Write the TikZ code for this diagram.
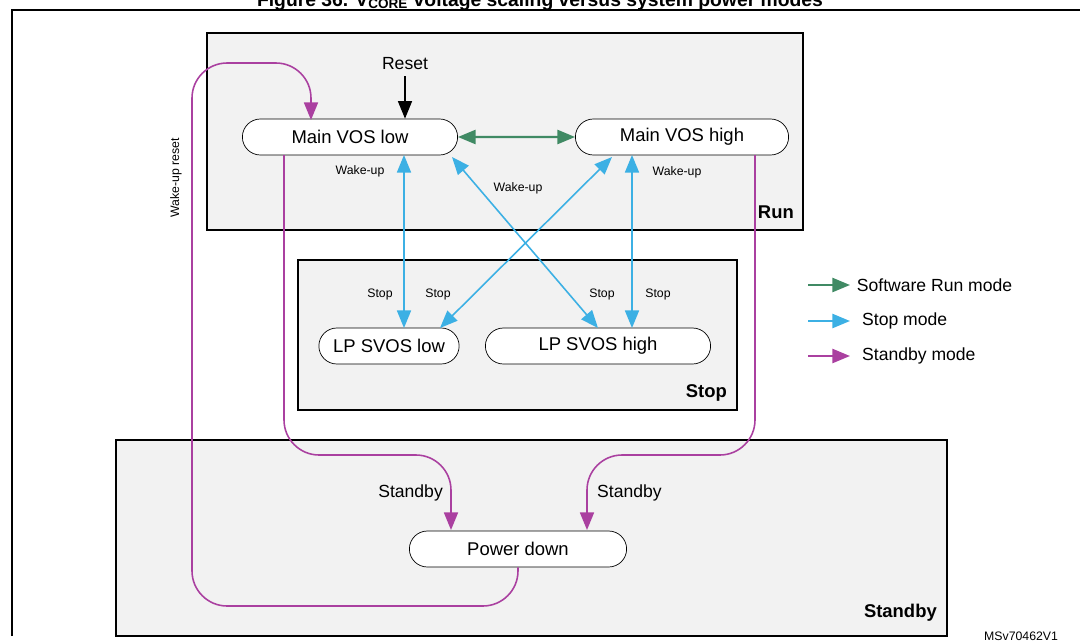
\documentclass[tikz,border=0pt]{standalone}
\usepackage{fontspec}
\setmainfont{Liberation Sans}
\usetikzlibrary{shapes.misc,arrows.meta}
\definecolor{runsw}{RGB}{64,138,100}
\definecolor{stopmode}{RGB}{60,176,228}
\definecolor{standbymode}{RGB}{170,64,160}
\definecolor{area}{RGB}{242,242,242}
\tikzstyle{state}=[rounded rectangle, draw, fill=white, minimum height=0.72cm, font=\fontsize{10.5}{12}\selectfont]
\tikzset{area/.style={draw, fill=area, line width=0.6pt}}
\tikzset{tip/.style={-{Triangle[width=8pt,length=10pt]}}}
\tikzset{tips/.style={{Triangle[width=8pt,length=10pt]}-{Triangle[width=8pt,length=10pt]}}}
\tikzset{small/.style={font=\fontsize{7}{8}\selectfont}}
\tikzset{label/.style={font=\fontsize{10}{12}\selectfont}}

\begin{document}
\begin{tikzpicture}[x=0.02cm,y=-0.02cm]
  \useasboundingbox (0,0) rectangle (1080,643);
  \clip (0,0) rectangle (1080,643);
  \node[anchor=base, font=\bfseries\fontsize{11}{13}\selectfont] (title) at (540,6) {Figure 36. V\textsubscript{CORE} voltage scaling versus system power modes};
  \draw[line width=0.8pt] (12,636) -- (12,10) -- (1090,10);

  %% Areas
  \draw[area] (207,33) rectangle (803,230);
  \draw[area] (298,260) rectangle (737,410);
  \draw[area] (116,440) rectangle (947,636);
  \node[font=\bfseries\fontsize{10.5}{12}\selectfont, anchor=east] (run) at (800,212) {Run};
  \node[font=\bfseries\fontsize{10.5}{12}\selectfont, anchor=east] (stop) at (733,393) {Stop};
  \node[font=\bfseries\fontsize{10.5}{12}\selectfont, anchor=east] (standby) at (943,613) {Standby};

  %% States
  \node[state, minimum width=4.54cm] (VL) at (350,137) {Main VOS low};
  \node[state, minimum width=4.5cm] (VH) at (682,137) {Main VOS high};
  \node[state, minimum width=3.04cm] (SL) at (389,346) {LP SVOS low};
  \node[state, minimum width=4.74cm] (SH) at (598,346) {LP SVOS high};
  \node[state, minimum width=4.58cm] (PD) at (518,549) {Power down};

  \node[label] (reset) at (405,64) {Reset};
  \draw[tip, line width=0.8pt] (reset.south) -- (VL.north -| reset);

  %% Software run
  \draw[tips, runsw, line width=1.2pt] (VL) -- (VH);

  %% Stop / wake-up
  \draw[tips, stopmode, line width=0.9pt] (404,155) -- (404,328);
  \draw[tips, stopmode, line width=0.9pt] (632,155) -- (632,328);
  \draw[tips, stopmode, line width=0.9pt] (612,157) -- (440,328);
  \draw[tips, stopmode, line width=0.9pt] (452,157) -- (598,328);
  \node[small] (wu1) at (360,171) {Wake-up};
  \node[small] (wu2) at (518,188) {Wake-up};
  \node[small] (wu3) at (677,172) {Wake-up};
  \foreach \x in {380,438,602,658}
    \node[small] at (\x,294) {Stop};

  %% Standby
  \draw[tip, standbymode, line width=0.9pt, rounded corners=20] (284,155) -- (284,455) -- (451,455) -- (451,530);
  \draw[tip, standbymode, line width=0.9pt, rounded corners=20] (755,155) -- (755,455) -- (587,455) -- (587,530);
  \draw[tip, standbymode, line width=0.9pt, rounded corners=20] (PD.south) -- (518,606) -- (192,606) -- (192,63) -- (311,63) -- (311,120);
  \node[label, anchor=east] (sb1) at (449,493) {Standby};
  \node[label, anchor=west] (sb2) at (591,493) {Standby};
  \node[small, rotate=90] (wur) at (176,178) {Wake-up reset};

  %% Legend
  \draw[tip, runsw, line width=1.2pt] (808,285) -- (850,285) node[right, label, text=black] {Software Run mode};
  \draw[tip, stopmode, line width=1.2pt] (808,321) -- (850,321) node[right, label, text=black, xshift=3pt] {Stop mode};
  \draw[tip, standbymode, line width=1.2pt] (808,356) -- (850,356) node[right, label, text=black, xshift=3pt] {Standby mode};
  \node[small, anchor=west] (ref) at (978,636) {MSv70462V1};
\end{tikzpicture}
\end{document}
